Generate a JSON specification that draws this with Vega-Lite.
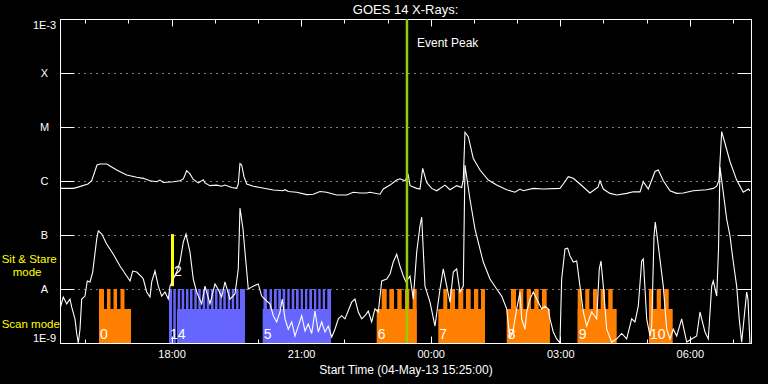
{
"$schema": "https://vega.github.io/schema/vega-lite/v6.json",
"width": 691, "height": 324,
"autosize": {"type": "none"},
"padding": {"left": 60, "top": 19, "right": 17, "bottom": 41},
"background": "black",
"config": {"view": {"stroke": "white", "strokeWidth": 1}, "font": "Liberation Sans",
  "axis": {"domainColor": "white", "tickColor": "white", "labelColor": "white", "titleColor": "white", "grid": false, "labelFont": "Liberation Sans", "titleFont": "Liberation Sans"}},
"title": {"text": "GOES 14 X-Rays:", "color": "white", "fontSize": 13, "fontWeight": "normal", "anchor": "middle", "offset": 6, "dy": 5},
"datasets": {
"long": [{"t":0.016,"v":7.3e-7},{"t":0.308,"v":7.3e-7},{"t":0.417,"v":7.7e-7},{"t":0.648,"v":8.8e-7},{"t":0.734,"v":1.01e-6},{"t":0.857,"v":1.98e-6},{"t":0.926,"v":2.06e-6},{"t":1.088,"v":2.06e-6},{"t":1.158,"v":1.9e-6},{"t":1.313,"v":1.6e-6},{"t":1.544,"v":1.29e-6},{"t":1.776,"v":1.17e-6},{"t":1.929,"v":1.12e-6},{"t":2.084,"v":1.01e-6},{"t":2.239,"v":9.7e-7},{"t":2.315,"v":1.04e-6},{"t":2.392,"v":9.4e-7},{"t":2.623,"v":9.7e-7},{"t":2.778,"v":1.01e-6},{"t":2.855,"v":1.09e-6},{"t":2.934,"v":1.55e-6},{"t":3.010,"v":1.35e-6},{"t":3.086,"v":1.07e-6},{"t":3.202,"v":9.2e-7},{"t":3.318,"v":1.05e-6},{"t":3.357,"v":9.2e-7},{"t":3.473,"v":8.2e-7},{"t":3.628,"v":8.4e-7},{"t":3.744,"v":8.0e-7},{"t":3.820,"v":8.4e-7},{"t":3.975,"v":7.6e-7},{"t":4.091,"v":7.3e-7},{"t":4.128,"v":8.8e-7},{"t":4.167,"v":2.1e-6},{"t":4.207,"v":1.98e-6},{"t":4.260,"v":1.2e-6},{"t":4.323,"v":8.8e-7},{"t":4.476,"v":8.0e-7},{"t":4.631,"v":7.6e-7},{"t":4.939,"v":6.8e-7},{"t":5.170,"v":6.6e-7},{"t":5.210,"v":6.9e-7},{"t":5.286,"v":6.4e-7},{"t":5.481,"v":6.2e-7},{"t":5.712,"v":5.6e-7},{"t":5.865,"v":5.7e-7},{"t":6.020,"v":6.4e-7},{"t":6.175,"v":6.2e-7},{"t":6.407,"v":5.5e-7},{"t":6.638,"v":5.5e-7},{"t":6.791,"v":6.2e-7},{"t":6.946,"v":6.0e-7},{"t":7.101,"v":6.0e-7},{"t":7.178,"v":6.2e-7},{"t":7.409,"v":5.7e-7},{"t":7.486,"v":7.1e-7},{"t":7.641,"v":8.4e-7},{"t":7.796,"v":1.04e-6},{"t":7.872,"v":1.1e-6},{"t":7.988,"v":1.01e-6},{"t":8.065,"v":1.29e-6},{"t":8.104,"v":8.2e-7},{"t":8.259,"v":7.3e-7},{"t":8.335,"v":7.1e-7},{"t":8.398,"v":1.72e-6},{"t":8.490,"v":9.4e-7},{"t":8.606,"v":7.3e-7},{"t":8.722,"v":6.6e-7},{"t":8.914,"v":8.4e-7},{"t":9.030,"v":6.9e-7},{"t":9.185,"v":8.2e-7},{"t":9.301,"v":7.6e-7},{"t":9.338,"v":1.04e-6},{"t":9.377,"v":8.0e-6},{"t":9.454,"v":6.6e-6},{"t":9.570,"v":2.6e-6},{"t":9.725,"v":1.6e-6},{"t":9.917,"v":1.04e-6},{"t":10.111,"v":8.4e-7},{"t":10.343,"v":6.9e-7},{"t":10.535,"v":6.2e-7},{"t":10.651,"v":7.1e-7},{"t":10.727,"v":6.6e-7},{"t":10.959,"v":7.3e-7},{"t":11.190,"v":7.1e-7},{"t":11.577,"v":7.3e-7},{"t":11.653,"v":8.8e-7},{"t":11.769,"v":1.2e-6},{"t":11.885,"v":1.12e-6},{"t":12.040,"v":8.8e-7},{"t":12.271,"v":6.0e-7},{"t":12.457,"v":7.7e-7},{"t":12.503,"v":1.01e-6},{"t":12.580,"v":7.1e-7},{"t":12.735,"v":5.9e-7},{"t":12.890,"v":5.5e-7},{"t":13.121,"v":5.9e-7},{"t":13.274,"v":6.3e-7},{"t":13.429,"v":6.3e-7},{"t":13.506,"v":9.7e-7},{"t":13.622,"v":7.1e-7},{"t":13.777,"v":1.5e-6},{"t":13.854,"v":1.6e-6},{"t":13.969,"v":1.01e-6},{"t":14.124,"v":6.6e-7},{"t":14.279,"v":5.9e-7},{"t":14.432,"v":6.0e-7},{"t":14.664,"v":6.6e-7},{"t":14.974,"v":6.9e-7},{"t":15.127,"v":7.3e-7},{"t":15.206,"v":8.0e-7},{"t":15.259,"v":1.04e-6},{"t":15.321,"v":8.2e-6},{"t":15.397,"v":5.0e-6},{"t":15.513,"v":2.3e-6},{"t":15.668,"v":1.04e-6},{"t":15.821,"v":6.2e-7},{"t":15.937,"v":7.1e-7},{"t":15.976,"v":6.6e-7}],
"short": [{"t":0,"v":4.3e-9},{"t":0.076,"v":7.1e-9},{"t":0.155,"v":5.3e-9},{"t":0.232,"v":6.5e-9},{"t":0.271,"v":4.6e-9},{"t":0.347,"v":2.8e-9},{"t":0.387,"v":1.5e-9},{"t":0.424,"v":1.0e-9},{"t":0.463,"v":1.8e-9},{"t":0.502,"v":6.5e-9},{"t":0.579,"v":7.4e-9},{"t":0.632,"v":1.41e-8},{"t":0.695,"v":1.35e-8},{"t":0.757,"v":2.06e-8},{"t":0.850,"v":8.4e-8},{"t":0.887,"v":1.19e-7},{"t":0.966,"v":1.04e-7},{"t":1.081,"v":6.8e-8},{"t":1.234,"v":4.4e-8},{"t":1.389,"v":2.66e-8},{"t":1.544,"v":1.74e-8},{"t":1.621,"v":1.41e-8},{"t":1.683,"v":2.15e-8},{"t":1.776,"v":2.06e-8},{"t":1.892,"v":1.67e-8},{"t":1.929,"v":1.53e-8},{"t":2.007,"v":8.8e-9},{"t":2.084,"v":7.1e-9},{"t":2.123,"v":1.35e-8},{"t":2.200,"v":2.15e-8},{"t":2.276,"v":1.13e-8},{"t":2.355,"v":7.4e-9},{"t":2.431,"v":8.8e-9},{"t":2.508,"v":6.5e-9},{"t":2.547,"v":1.13e-8},{"t":2.623,"v":1.53e-8},{"t":2.702,"v":2.06e-8},{"t":2.778,"v":3.16e-8},{"t":2.855,"v":7.4e-8},{"t":2.917,"v":1.04e-7},{"t":3.010,"v":4.8e-8},{"t":3.086,"v":1.53e-8},{"t":3.165,"v":8.8e-9},{"t":3.281,"v":5.3e-9},{"t":3.357,"v":1.13e-8},{"t":3.473,"v":5.3e-9},{"t":3.589,"v":1.24e-8},{"t":3.658,"v":1.0e-8},{"t":3.744,"v":7.1e-9},{"t":3.820,"v":1.35e-8},{"t":3.936,"v":6.5e-9},{"t":4.052,"v":8.1e-9},{"t":4.128,"v":2.35e-8},{"t":4.168,"v":3.16e-7},{"t":4.237,"v":1.29e-7},{"t":4.284,"v":4.8e-8},{"t":4.360,"v":1.0e-8},{"t":4.476,"v":1.13e-8},{"t":4.591,"v":1.24e-8},{"t":4.670,"v":7.4e-9},{"t":4.786,"v":6.0e-9},{"t":4.862,"v":5.3e-9},{"t":4.939,"v":3.2e-9},{"t":5.017,"v":2.45e-9},{"t":5.094,"v":3.75e-9},{"t":5.147,"v":6.5e-9},{"t":5.210,"v":2.8e-9},{"t":5.286,"v":1.8e-9},{"t":5.365,"v":2.45e-9},{"t":5.441,"v":1.35e-9},{"t":5.518,"v":2.06e-9},{"t":5.596,"v":3.2e-9},{"t":5.673,"v":1.67e-9},{"t":5.749,"v":2.25e-9},{"t":5.828,"v":1.5e-9},{"t":5.904,"v":3.9e-9},{"t":5.981,"v":1.6e-9},{"t":6.059,"v":2.45e-9},{"t":6.136,"v":1.6e-9},{"t":6.212,"v":2.06e-9},{"t":6.291,"v":1.29e-9},{"t":6.367,"v":1.8e-9},{"t":6.444,"v":2.8e-9},{"t":6.522,"v":3.2e-9},{"t":6.599,"v":2.8e-9},{"t":6.754,"v":5.7e-9},{"t":6.830,"v":6.5e-9},{"t":6.907,"v":3.75e-9},{"t":6.985,"v":2.8e-9},{"t":7.062,"v":3.2e-9},{"t":7.138,"v":3.9e-9},{"t":7.217,"v":2.45e-9},{"t":7.293,"v":4.3e-9},{"t":7.370,"v":3.75e-9},{"t":7.449,"v":1.41e-8},{"t":7.564,"v":1.53e-8},{"t":7.641,"v":1.9e-8},{"t":7.717,"v":3.16e-8},{"t":7.796,"v":4.4e-8},{"t":7.872,"v":2.66e-8},{"t":7.949,"v":1.74e-8},{"t":8.011,"v":1.35e-8},{"t":8.104,"v":1.74e-8},{"t":8.180,"v":6.5e-9},{"t":8.259,"v":4.8e-8},{"t":8.335,"v":1.47e-7},{"t":8.375,"v":2.15e-7},{"t":8.451,"v":1.13e-8},{"t":8.567,"v":5.7e-9},{"t":8.683,"v":2.06e-9},{"t":8.799,"v":1.0e-8},{"t":8.875,"v":2.35e-8},{"t":8.954,"v":1.13e-8},{"t":9.030,"v":5.7e-9},{"t":9.107,"v":2.06e-8},{"t":9.185,"v":2.35e-8},{"t":9.262,"v":8.8e-9},{"t":9.338,"v":1.13e-8},{"t":9.377,"v":1.98e-6},{"t":9.493,"v":4.6e-7},{"t":9.609,"v":1.29e-7},{"t":9.725,"v":5.5e-8},{"t":9.801,"v":3.16e-8},{"t":9.956,"v":1.53e-8},{"t":10.111,"v":1.0e-8},{"t":10.227,"v":7.4e-9},{"t":10.343,"v":4.3e-9},{"t":10.419,"v":1.19e-9},{"t":10.496,"v":1.8e-9},{"t":10.574,"v":4.3e-9},{"t":10.651,"v":8.8e-9},{"t":10.690,"v":2.8e-9},{"t":10.767,"v":1.8e-9},{"t":10.806,"v":3.75e-9},{"t":10.882,"v":6.5e-9},{"t":10.959,"v":8.8e-9},{"t":11.075,"v":5.7e-9},{"t":11.153,"v":4.3e-9},{"t":11.230,"v":4.8e-9},{"t":11.306,"v":4.3e-9},{"t":11.345,"v":2.8e-9},{"t":11.422,"v":1.6e-9},{"t":11.501,"v":1.19e-9},{"t":11.577,"v":1.0e-9},{"t":11.616,"v":1.53e-8},{"t":11.693,"v":5.5e-8},{"t":11.755,"v":5.7e-8},{"t":11.809,"v":4.1e-8},{"t":11.885,"v":3.16e-8},{"t":11.964,"v":3.3e-8},{"t":12.040,"v":1.13e-8},{"t":12.117,"v":3.75e-9},{"t":12.195,"v":2.06e-9},{"t":12.311,"v":3.75e-9},{"t":12.427,"v":2.8e-9},{"t":12.487,"v":2.35e-8},{"t":12.526,"v":3.3e-8},{"t":12.580,"v":1.13e-8},{"t":12.658,"v":1.8e-9},{"t":12.774,"v":1.04e-9},{"t":12.890,"v":1.19e-9},{"t":13.006,"v":1.5e-9},{"t":13.121,"v":1.19e-9},{"t":13.237,"v":2.8e-9},{"t":13.314,"v":2.45e-9},{"t":13.390,"v":4.8e-9},{"t":13.469,"v":3.3e-8},{"t":13.506,"v":3.6e-8},{"t":13.585,"v":2.8e-9},{"t":13.661,"v":1.35e-9},{"t":13.701,"v":2.06e-9},{"t":13.754,"v":9.6e-8},{"t":13.784,"v":1.74e-7},{"t":13.854,"v":6.3e-8},{"t":13.969,"v":1.13e-8},{"t":14.048,"v":1.8e-9},{"t":14.124,"v":1.19e-9},{"t":14.200,"v":1.8e-9},{"t":14.279,"v":1.35e-9},{"t":14.395,"v":2.8e-9},{"t":14.511,"v":1.04e-9},{"t":14.626,"v":1.19e-9},{"t":14.742,"v":1.35e-9},{"t":14.819,"v":3.75e-9},{"t":14.858,"v":2.8e-9},{"t":14.935,"v":1.6e-9},{"t":15.011,"v":1.19e-9},{"t":15.090,"v":1.13e-8},{"t":15.127,"v":1.41e-8},{"t":15.206,"v":7.4e-9},{"t":15.248,"v":5.5e-8},{"t":15.282,"v":1.82e-6},{"t":15.437,"v":1.98e-7},{"t":15.513,"v":9.6e-8},{"t":15.590,"v":3.16e-8},{"t":15.668,"v":1.13e-8},{"t":15.728,"v":2.8e-9},{"t":15.784,"v":1.04e-9},{"t":15.900,"v":8.8e-9},{"t":15.930,"v":6.5e-9},{"t":15.976,"v":1.0e-9}],
"modes": [
{"id":"0","cls":"o","t":0.903,"t2":1.644,"top":4.26e-9},{"id":"0","cls":"o","t":0.903,"t2":1.019,"top":1e-8},{"id":"0","cls":"o","t":1.088,"t2":1.169,"top":1e-8},{"id":"0","cls":"o","t":1.239,"t2":1.320,"top":1e-8},{"id":"0","cls":"o","t":1.401,"t2":1.493,"top":1e-8},
{"id":"14","cls":"b","t":2.709,"t2":4.283,"top":4.26e-9},{"id":"14","cls":"b","t":2.524,"t2":2.593,"top":1e-8},{"id":"14","cls":"b","t":2.623,"t2":2.681,"top":1e-8},{"id":"14","cls":"b","t":2.725,"t2":2.783,"top":1e-8},{"id":"14","cls":"b","t":2.818,"t2":2.876,"top":1e-8},{"id":"14","cls":"b","t":2.917,"t2":2.975,"top":1e-8},{"id":"14","cls":"b","t":3.010,"t2":3.068,"top":1e-8},{"id":"14","cls":"b","t":3.110,"t2":3.167,"top":1e-8},{"id":"14","cls":"b","t":3.202,"t2":3.260,"top":1e-8},{"id":"14","cls":"b","t":3.304,"t2":3.362,"top":1e-8},{"id":"14","cls":"b","t":3.397,"t2":3.455,"top":1e-8},{"id":"14","cls":"b","t":3.496,"t2":3.554,"top":1e-8},{"id":"14","cls":"b","t":3.589,"t2":3.647,"top":1e-8},{"id":"14","cls":"b","t":3.688,"t2":3.746,"top":1e-8},{"id":"14","cls":"b","t":3.781,"t2":3.839,"top":1e-8},{"id":"14","cls":"b","t":3.883,"t2":3.941,"top":1e-8},{"id":"14","cls":"b","t":3.976,"t2":4.033,"top":1e-8},{"id":"14","cls":"b","t":4.075,"t2":4.133,"top":1e-8},{"id":"14","cls":"b","t":4.168,"t2":4.283,"top":1e-8},
{"id":"5","cls":"b","t":4.693,"t2":6.275,"top":4.26e-9},{"id":"5","cls":"b","t":4.712,"t2":4.793,"top":1e-8},{"id":"5","cls":"b","t":4.851,"t2":4.909,"top":1e-8},{"id":"5","cls":"b","t":4.955,"t2":5.018,"top":1e-8},{"id":"5","cls":"b","t":5.054,"t2":5.117,"top":1e-8},{"id":"5","cls":"b","t":5.156,"t2":5.216,"top":1e-8},{"id":"5","cls":"b","t":5.263,"t2":5.318,"top":1e-8},{"id":"5","cls":"b","t":5.365,"t2":5.425,"top":1e-8},{"id":"5","cls":"b","t":5.464,"t2":5.527,"top":1e-8},{"id":"5","cls":"b","t":5.573,"t2":5.626,"top":1e-8},{"id":"5","cls":"b","t":5.673,"t2":5.726,"top":1e-8},{"id":"5","cls":"b","t":5.772,"t2":5.835,"top":1e-8},{"id":"5","cls":"b","t":5.881,"t2":5.934,"top":1e-8},{"id":"5","cls":"b","t":5.981,"t2":6.036,"top":1e-8},{"id":"5","cls":"b","t":6.083,"t2":6.136,"top":1e-8},{"id":"5","cls":"b","t":6.189,"t2":6.275,"top":1e-8},
{"id":"6","cls":"o","t":7.333,"t2":8.259,"top":4.26e-9},{"id":"6","cls":"o","t":7.449,"t2":7.564,"top":1e-8},{"id":"6","cls":"o","t":7.625,"t2":7.733,"top":1e-8},{"id":"6","cls":"o","t":7.810,"t2":7.912,"top":1e-8},{"id":"6","cls":"o","t":7.988,"t2":8.088,"top":1e-8},{"id":"6","cls":"o","t":8.166,"t2":8.259,"top":1e-8},
{"id":"7","cls":"o","t":8.759,"t2":9.840,"top":4.26e-9},{"id":"7","cls":"o","t":8.875,"t2":8.968,"top":1e-8},{"id":"7","cls":"o","t":9.030,"t2":9.146,"top":1e-8},{"id":"7","cls":"o","t":9.222,"t2":9.338,"top":1e-8},{"id":"7","cls":"o","t":9.400,"t2":9.509,"top":1e-8},{"id":"7","cls":"o","t":9.586,"t2":9.685,"top":1e-8},{"id":"7","cls":"o","t":9.748,"t2":9.840,"top":1e-8},
{"id":"8","cls":"o","t":10.343,"t2":11.345,"top":4.26e-9},{"id":"8","cls":"o","t":10.443,"t2":10.558,"top":1e-8},{"id":"8","cls":"o","t":10.628,"t2":10.727,"top":1e-8},{"id":"8","cls":"o","t":10.806,"t2":10.905,"top":1e-8},{"id":"8","cls":"o","t":10.982,"t2":11.084,"top":1e-8},{"id":"8","cls":"o","t":11.160,"t2":11.269,"top":1e-8},
{"id":"9","cls":"o","t":11.987,"t2":12.890,"top":4.26e-9},{"id":"9","cls":"o","t":11.987,"t2":12.079,"top":1e-8},{"id":"9","cls":"o","t":12.163,"t2":12.256,"top":1e-8},{"id":"9","cls":"o","t":12.341,"t2":12.441,"top":1e-8},{"id":"9","cls":"o","t":12.519,"t2":12.619,"top":1e-8},{"id":"9","cls":"o","t":12.695,"t2":12.797,"top":1e-8},
{"id":"10","cls":"o","t":13.638,"t2":14.187,"top":4.26e-9},{"id":"10","cls":"o","t":13.638,"t2":13.737,"top":1e-8},{"id":"10","cls":"o","t":13.816,"t2":13.915,"top":1e-8},{"id":"10","cls":"o","t":13.992,"t2":14.094,"top":1e-8}],
"blocks": [{"id":"0","t":0.903},{"id":"14","t":2.524},{"id":"5","t":4.693},{"id":"6","t":7.333},{"id":"7","t":8.759},{"id":"8","t":10.343},{"id":"9","t":11.987},{"id":"10","t":13.638}],
"stare": [{"t":2.570,"t2":2.640,"lo":1.13e-8,"hi":1.04e-7,"n":"2"}],
"event": [{"t":8.034,"label":"Event Peak"}]
},
"resolve": {"axis": {"x": "independent", "y": "independent"}},
"layer": [
{"data": {"name": "modes"}, "mark": {"type": "rect"},
 "encoding": {
  "x": {"field": "t", "type": "quantitative", "scale": {"domain": [0, 16], "nice": false, "zero": false},
    "axis": {"orient": "bottom", "values": [0.58333,1.58333,2.58333,3.58333,4.58333,5.58333,6.58333,7.58333,8.58333,9.58333,10.58333,11.58333,12.58333,13.58333,14.58333,15.58333],
      "labelExpr": "(round(datum.value*60)-155)%180==0 ? pad(''+(((round(datum.value*60)+925)/60)%24), 2, '0', 'left') + ':00' : ''",
      "tickSize": {"condition": {"test": "(round(datum.value*60)-155)%180==0", "value": -7}, "value": -4},
      "labelPadding": 12, "labelFontSize": 11, "labelOverlap": false, "labelFlush": false,
      "title": "Start Time (04-May-13 15:25:00)", "titleFontSize": 12, "titleFontWeight": "normal", "titlePadding": 2, "grid": false}},
  "x2": {"field": "t2"},
  "y": {"field": "top", "type": "quantitative", "scale": {"type": "log", "domain": [1e-9, 1e-3]},
    "axis": {"orient": "left", "values": [1e-9,1e-8,1e-7,1e-6,1e-5,1e-4,1e-3],
      "labelExpr": "['1E-9','A','B','C','M','X','1E-3'][round(log(datum.value)/LN10)+9]",
      "tickSize": -14, "labelAlign": "center", "labelPadding": 30, "labelFlush": true, "labelFontSize": 11,
      "grid": true, "gridColor": "white", "gridOpacity": 1, "gridDash": [1, 5], "gridWidth": 1, "title": null}},
  "y2": {"datum": 1e-9},
  "color": {"field": "cls", "type": "nominal", "scale": {"domain": ["o", "b"], "range": ["#ff8000", "#6666ff"]}, "legend": null}
 }},
{"data": {"name": "stare"}, "mark": {"type": "rect", "color": "#ffff00"},
 "encoding": {
  "x": {"field": "t", "type": "quantitative", "scale": {"domain": [0, 16]}, "axis": null},
  "x2": {"field": "t2"},
  "y": {"field": "lo", "type": "quantitative", "scale": {"type": "log", "domain": [1e-9, 1e-3]}, "axis": null},
  "y2": {"field": "hi"}}},
{"data": {"name": "long"}, "mark": {"type": "line", "color": "white", "strokeWidth": 1.1, "clip": true},
 "encoding": {
  "x": {"field": "t", "type": "quantitative", "scale": {"domain": [0, 16]},
    "axis": {"orient": "top", "values": [0.58333,1.58333,2.58333,3.58333,4.58333,5.58333,6.58333,7.58333,8.58333,9.58333,10.58333,11.58333,12.58333,13.58333,14.58333,15.58333],
      "labels": false, "title": null, "grid": false,
      "tickSize": {"condition": {"test": "(round(datum.value*60)-155)%180==0", "value": -7}, "value": -4}}},
  "y": {"field": "v", "type": "quantitative", "scale": {"type": "log", "domain": [1e-9, 1e-3]},
    "axis": {"orient": "right", "values": [1e-9,1e-8,1e-7,1e-6,1e-5,1e-4,1e-3], "labels": false, "title": null, "grid": false, "tickSize": -14}}}},
{"data": {"name": "short"}, "mark": {"type": "line", "color": "white", "strokeWidth": 1.1, "clip": true},
 "encoding": {
  "x": {"field": "t", "type": "quantitative", "scale": {"domain": [0, 16]}, "axis": null},
  "y": {"field": "v", "type": "quantitative", "scale": {"type": "log", "domain": [1e-9, 1e-3]}, "axis": null}}},
{"data": {"name": "event"}, "mark": {"type": "rule", "color": "#99cc00", "strokeWidth": 2.5},
 "encoding": {"x": {"field": "t", "type": "quantitative", "scale": {"domain": [0, 16]}, "axis": null}}},
{"data": {"name": "event"}, "mark": {"type": "text", "color": "white", "fontSize": 12, "align": "left", "baseline": "alphabetic", "dx": 10, "dy": 28},
 "encoding": {"x": {"field": "t", "type": "quantitative", "scale": {"domain": [0, 16]}, "axis": null},
  "y": {"datum": 1e-3, "type": "quantitative", "scale": {"type": "log", "domain": [1e-9, 1e-3]}, "axis": null},
  "text": {"field": "label"}}},
{"data": {"name": "blocks"}, "mark": {"type": "text", "color": "white", "fontSize": 14, "align": "left", "baseline": "alphabetic", "dx": 1, "dy": -4.5},
 "encoding": {"x": {"field": "t", "type": "quantitative", "scale": {"domain": [0, 16]}, "axis": null},
  "y": {"datum": 1e-9, "type": "quantitative", "scale": {"type": "log", "domain": [1e-9, 1e-3]}, "axis": null},
  "text": {"field": "id"}}},
{"data": {"name": "stare"}, "mark": {"type": "text", "color": "white", "fontSize": 14, "align": "left", "baseline": "alphabetic", "dx": 0},
 "encoding": {"x": {"field": "t2", "type": "quantitative", "scale": {"domain": [0, 16]}, "axis": null},
  "y": {"datum": 1.74e-8, "type": "quantitative", "scale": {"type": "log", "domain": [1e-9, 1e-3]}, "axis": null},
  "text": {"field": "n"}}},
{"data": {"values": [{}]}, "mark": {"type": "text", "color": "#ffff00", "fontSize": 11.5, "align": "left", "baseline": "alphabetic"},
 "encoding": {"x": {"datum": -1.35, "type": "quantitative", "scale": {"domain": [0, 16]}, "axis": null},
  "y": {"datum": 3.05e-8, "type": "quantitative", "scale": {"type": "log", "domain": [1e-9, 1e-3]}, "axis": null},
  "text": {"value": "Sit & Stare"}}},
{"data": {"values": [{}]}, "mark": {"type": "text", "color": "#ffff00", "fontSize": 11.5, "align": "left", "baseline": "alphabetic"},
 "encoding": {"x": {"datum": -1.095, "type": "quantitative", "scale": {"domain": [0, 16]}, "axis": null},
  "y": {"datum": 1.77e-8, "type": "quantitative", "scale": {"type": "log", "domain": [1e-9, 1e-3]}, "axis": null},
  "text": {"value": "mode"}}},
{"data": {"values": [{}]}, "mark": {"type": "text", "color": "#ffff00", "fontSize": 11.5, "align": "left", "baseline": "alphabetic"},
 "encoding": {"x": {"datum": -1.35, "type": "quantitative", "scale": {"domain": [0, 16]}, "axis": null},
  "y": {"datum": 1.87e-9, "type": "quantitative", "scale": {"type": "log", "domain": [1e-9, 1e-3]}, "axis": null},
  "text": {"value": "Scan mode"}}}
]
}
